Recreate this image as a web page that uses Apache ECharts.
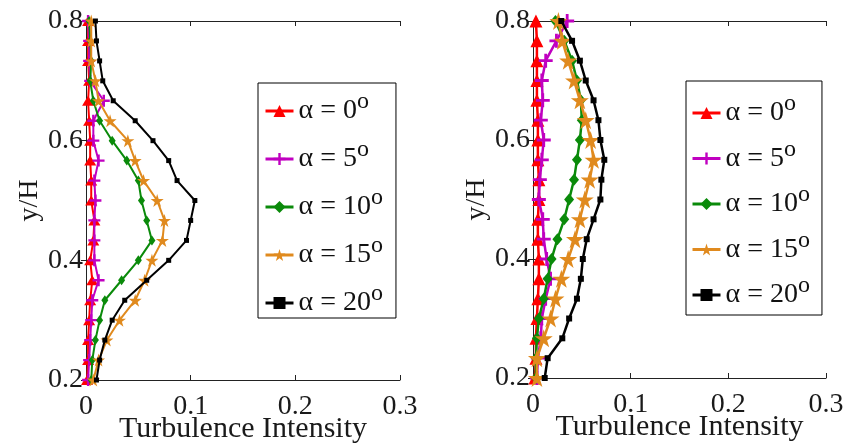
<!DOCTYPE html>
<html><head><meta charset="utf-8">
<script src="https://cdn.jsdelivr.net/npm/echarts@6/dist/echarts.min.js"></script>
<style>html,body{margin:0;padding:0;background:#fff}#c{width:845px;height:443px}</style>
</head><body><div id="c"></div>
<script>
// y/H measurement stations
const yLevels = [0.2, 0.2333, 0.2667, 0.3, 0.3333, 0.3667, 0.4, 0.4333, 0.4667, 0.5, 0.5333, 0.5667, 0.6, 0.6333, 0.6667, 0.7, 0.7333, 0.7667, 0.8];
const seriesNames = ['α = 0', 'α = 5', 'α = 10', 'α = 15', 'α = 20'];
const xTickLabels = ['0', '0.1', '0.2', '0.3'];
const yTickLabels = ['0.2', '0.4', '0.6', '0.8'];

// Left panel turbulence intensity
const leftA0  = [0.001,0.002,0.002,0.003,0.004,0.006,0.004,0.007,0.008,0.005,0.005,0.004,0.004,0.003,0.002,0.003,0.002,0.002,0.002];
const leftA5  = [0.002,0.003,0.004,0.005,0.006,0.012,0.008,0.008,0.008,0.009,0.008,0.012,0.007,0.007,0.017,0.004,0.003,0.003,0.002];
const leftA10 = [0.005,0.006,0.009,0.013,0.018,0.034,0.050,0.063,0.058,0.053,0.050,0.039,0.025,0.013,0.007,0.004,0.005,0.004,0.003];
const leftA15 = [0.007,0.012,0.020,0.032,0.047,0.056,0.063,0.073,0.075,0.068,0.055,0.047,0.040,0.023,0.012,0.009,0.005,0.005,0.005];
const leftA20 = [0.010,0.013,0.018,0.025,0.037,0.058,0.079,0.096,0.100,0.104,0.087,0.079,0.064,0.047,0.026,0.016,0.013,0.010,0.009];

// Right panel turbulence intensity
const rightA0  = [0.002,0.003,0.003,0.004,0.005,0.006,0.006,0.005,0.005,0.006,0.006,0.005,0.005,0.005,0.004,0.004,0.004,0.004,0.003];
const rightA5  = [0.004,0.005,0.008,0.009,0.013,0.018,0.014,0.011,0.010,0.006,0.007,0.009,0.011,0.008,0.010,0.009,0.013,0.024,0.035];
const rightA10 = [0.003,0.003,0.004,0.006,0.011,0.015,0.019,0.025,0.032,0.037,0.042,0.045,0.048,0.050,0.049,0.045,0.040,0.032,0.023];
const rightA15 = [0.004,0.004,0.011,0.018,0.023,0.029,0.036,0.043,0.048,0.053,0.058,0.062,0.059,0.054,0.048,0.042,0.036,0.030,0.026];
const rightA20 = [0.012,0.015,0.030,0.037,0.045,0.049,0.051,0.055,0.062,0.069,0.070,0.073,0.069,0.067,0.062,0.054,0.048,0.040,0.029];

const colors = ['#ff0000', '#c000c0', '#0a8a0a', '#e08a1e', '#000000'];
const PLUS = 'path://M4,0L6,0L6,4L10,4L10,6L6,6L6,10L4,10L4,6L0,6L0,4L4,4Z';
const STAR = 'path://M50,0L61,35L98,35L68,57L79,91L50,70L21,91L32,57L2,35L39,35Z';
const symbols = ['triangle', PLUS, 'diamond', STAR, 'rect'];
const symSizeL = [[12, 10], 12, [7, 10], 13, 5];
const symSizeR = [[13, 13], 14, [10, 12], 18, 6];

const FONT = '"Liberation Serif", "Times New Roman", serif';
const TXT = '#1a1a1a';

function pairs(xs) { return xs.map((v, i) => [v, yLevels[i]]); }

function mkSeries(arrs, gi, sizes, lw) {
  return arrs.map((a, i) => ({
    type: 'line', name: seriesNames[i], xAxisIndex: gi * 2, yAxisIndex: gi * 2,
    data: pairs(a), symbol: symbols[i], symbolSize: sizes[i], showAllSymbol: true,
    lineStyle: { color: colors[i], width: lw }, itemStyle: { color: colors[i] },
    z: 2 + i, animation: false, clip: false
  }));
}

function xAxes(gi) {
  return [{
    type: 'value', gridIndex: gi, min: 0, max: 0.3, interval: 0.1, position: 'bottom',
    name: 'Turbulence Intensity', nameLocation: 'middle', nameGap: 34, nameMoveOverlap: false,
    nameTextStyle: { fontFamily: FONT, fontSize: 30, color: TXT },
    axisLine: { show: true, lineStyle: { color: '#222', width: 1 } },
    axisTick: { show: true, inside: true, length: 5, lineStyle: { color: '#222' } },
    axisLabel: { fontFamily: FONT, fontSize: 28, color: TXT, margin: 13,
      formatter: v => xTickLabels[Math.round(v * 10)] },
    splitLine: { show: false }
  }, {
    type: 'value', gridIndex: gi, min: 0, max: 0.3, interval: 0.1, position: 'top',
    axisLine: { show: true, lineStyle: { color: '#222', width: 1 } },
    axisTick: { show: true, inside: true, length: 5, lineStyle: { color: '#222' } },
    axisLabel: { show: false }, splitLine: { show: false }
  }];
}
function yAxes(gi) {
  return [{
    type: 'value', gridIndex: gi, min: 0.2, max: 0.8, interval: 0.2, position: 'left',
    name: 'y/H', nameLocation: 'middle', nameGap: 42, nameRotate: 90, nameMoveOverlap: false,
    nameTextStyle: { fontFamily: FONT, fontSize: 28, color: TXT },
    axisLine: { show: true, lineStyle: { color: '#222', width: 1 } },
    axisTick: { show: true, inside: true, length: 5, lineStyle: { color: '#222' } },
    axisLabel: { fontFamily: FONT, fontSize: 28, color: TXT, margin: 3,
      formatter: v => yTickLabels[Math.round((v - 0.2) * 5)] },
    splitLine: { show: false }
  }, {
    type: 'value', gridIndex: gi, min: 0.2, max: 0.8, interval: 0.2, position: 'right',
    axisLine: { show: true, lineStyle: { color: '#222', width: 1 } },
    axisTick: { show: true, inside: true, length: 5, lineStyle: { color: '#222' } },
    axisLabel: { show: false }, splitLine: { show: false }
  }];
}

function mkLegend(left, top, gap, padding) {
  return {
    orient: 'vertical', left: left, top: top, data: seriesNames,
    itemWidth: 28, itemHeight: 15, itemGap: gap, itemTextGap: 4,
    padding: padding, borderColor: '#000', borderWidth: 1, borderRadius: 0,
    backgroundColor: '#fff', selectedMode: false,
    lineStyle: { width: 3 },
    formatter: n => '{a|' + n + '}{s|o}',
    textStyle: {
      fontFamily: FONT, fontSize: 28, color: '#111',
      rich: {
        a: { fontFamily: FONT, fontSize: 28, lineHeight: 30, color: '#111' },
        s: { fontFamily: FONT, fontSize: 24, height: 12, lineHeight: 12, verticalAlign: 'top', color: '#111' }
      }
    }
  };
}

const chart = echarts.init(document.getElementById('c'), null, { renderer: 'canvas' });
chart.setOption({
  animation: false,
  backgroundColor: '#fff',
  grid: [
    { left: 86, right: 445, top: 21, bottom: 63, outerBoundsMode: 'none' },
    { left: 533, right: 19, top: 21, bottom: 65, outerBoundsMode: 'none' }
  ],
  xAxis: [...xAxes(0), ...xAxes(1)],
  yAxis: [...yAxes(0), ...yAxes(1)],
  legend: [mkLegend(258, 83, 13, [7, 13, 1, 6]), mkLegend(686, 81, 10.5, [11, 12, 6, 5])],
  series: [
    ...mkSeries([leftA0, leftA5, leftA10, leftA15, leftA20], 0, symSizeL, 2),
    ...mkSeries([rightA0, rightA5, rightA10, rightA15, rightA20], 1, symSizeR, 2.5)
  ]
});
</script></body></html>
